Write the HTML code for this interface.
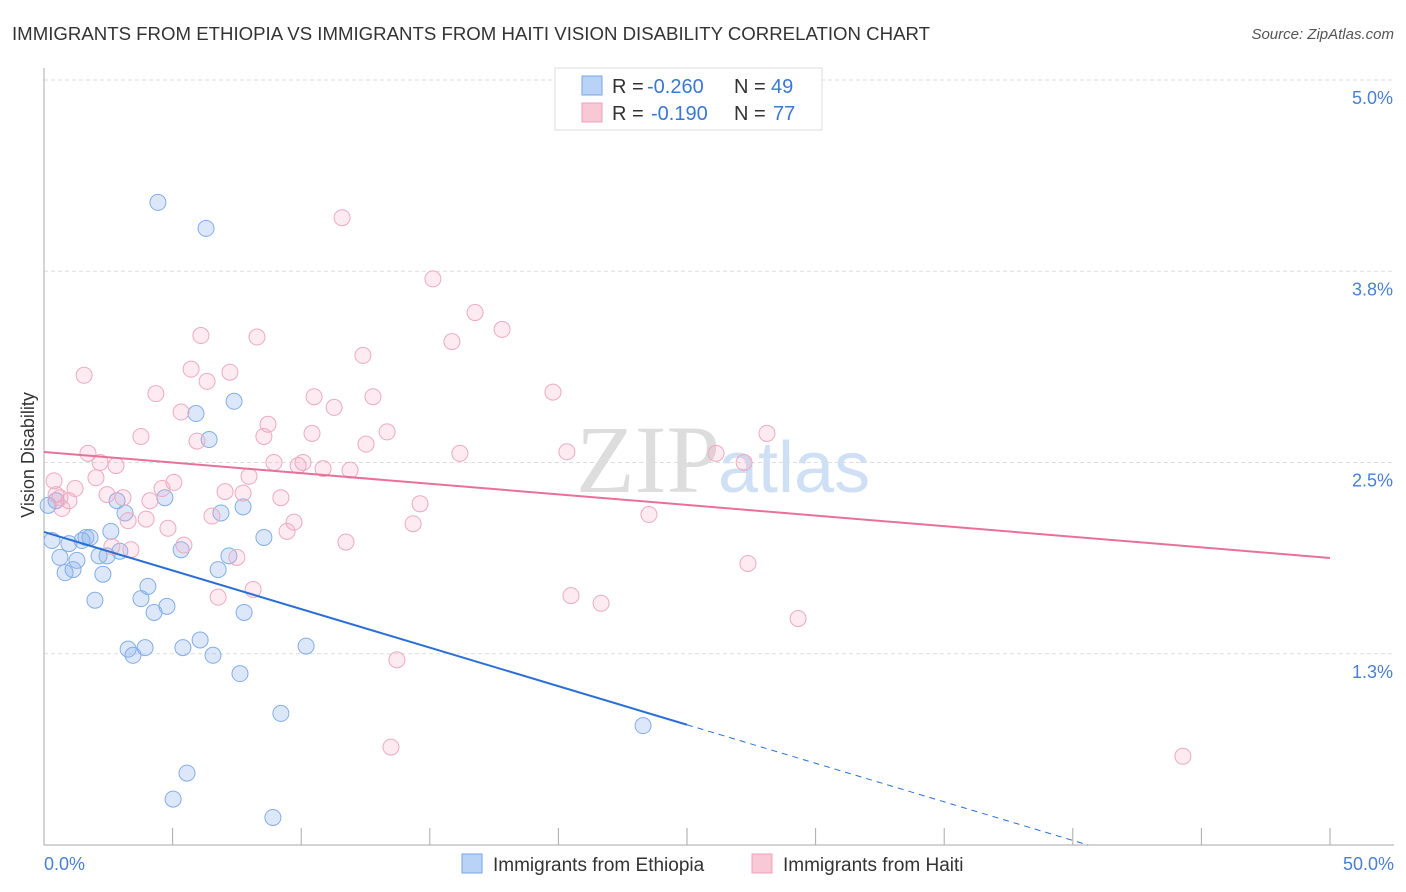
<!DOCTYPE html>
<html><head><meta charset="utf-8"><style>
body{margin:0;background:#fff;font-family:"Liberation Sans",sans-serif}
svg{display:block}
</style></head><body>
<svg width="1406" height="892" viewBox="0 0 1406 892">
<text x="12" y="40" font-size="18" fill="#333" textLength="918" lengthAdjust="spacingAndGlyphs">IMMIGRANTS FROM ETHIOPIA VS IMMIGRANTS FROM HAITI VISION DISABILITY CORRELATION CHART</text>
<text x="1394" y="39" font-size="15" fill="#555" font-style="italic" text-anchor="end">Source: ZipAtlas.com</text>
<g id="grid"></g>
<g id="axes"></g>
<text x="720" y="492" font-size="96" fill="#ddd" text-anchor="end" font-family="Liberation Serif">ZIP</text>
<text x="718" y="492" font-size="72" fill="#cfe0f5">atlas</text>
<g id="pts"></g>
<g id="lines"></g>
<text transform="translate(34,455) rotate(-90)" font-size="18" fill="#333" text-anchor="middle">Vision Disability</text>
<text x="44" y="870" font-size="18" fill="#4a7fd4">0.0%</text>
<text x="1394" y="870" font-size="18" fill="#4a7fd4" text-anchor="end">50.0%</text>
<g>
<rect x="555" y="68" width="267" height="62" fill="#fff" stroke="#ddd"/>
<rect x="582" y="76" width="20" height="19" fill="#b8d3f5" stroke="#7aa6e6"/>
<rect x="582" y="103" width="20" height="19" fill="#f9c8d6" stroke="#eea0b8"/>
<text x="612" y="93" font-size="20" fill="#333">R =</text>
<text x="647" y="93" font-size="20" fill="#3a78d4">-0.260</text>
<text x="734" y="93" font-size="20" fill="#333">N =</text>
<text x="771" y="93" font-size="20" fill="#3a78d4">49</text>
<text x="612" y="120" font-size="20" fill="#333">R =</text>
<text x="651" y="120" font-size="20" fill="#3a78d4">-0.190</text>
<text x="734" y="120" font-size="20" fill="#333">N =</text>
<text x="773" y="120" font-size="20" fill="#3a78d4">77</text>
</g>
<g>
<rect x="462" y="854" width="20" height="19" fill="#b8d3f5" stroke="#7aa6e6"/>
<text x="493" y="871" font-size="19" fill="#333">Immigrants from Ethiopia</text>
<rect x="752" y="854" width="20" height="19" fill="#f9c8d6" stroke="#eea0b8"/>
<text x="783" y="871" font-size="19" fill="#333">Immigrants from Haiti</text>
</g>
</svg>
<script>
const yTicks=[5.0,3.75,2.5,1.25];
const yTickLabels=["5.0%","3.8%","2.5%","1.3%"];
const xTicks=[0,5,10,15,20,25,30,35,40,45,50];
const ethX=[4.43,6.30,5.91,6.42,7.39,4.70,2.84,3.15,7.74,6.88,8.55,2.60,1.63,1.79,1.48,0.97,0.31,0.62,1.28,2.14,2.45,2.95,5.33,7.19,6.77,0.82,1.13,2.29,4.04,3.77,4.78,4.28,1.98,7.78,3.27,3.93,3.46,5.40,6.07,6.57,10.19,7.62,9.21,23.29,5.56,5.02,8.90,0.47,0.16];
const ethY=[4.20,4.03,2.82,2.65,2.90,2.27,2.25,2.17,2.21,2.17,2.01,2.05,2.01,2.01,1.99,1.97,1.99,1.88,1.86,1.89,1.89,1.92,1.93,1.89,1.80,1.78,1.80,1.77,1.69,1.61,1.56,1.52,1.60,1.52,1.28,1.29,1.24,1.29,1.34,1.24,1.30,1.12,0.86,0.78,0.47,0.30,0.18,2.25,2.22];
const haiX=[11.59,15.12,16.76,17.81,15.86,12.40,8.28,6.10,1.56,5.72,7.23,6.34,4.35,10.50,12.79,19.79,5.33,11.28,8.71,3.77,5.95,8.55,10.42,13.34,12.52,1.71,2.18,2.80,8.94,10.07,9.88,10.85,11.90,16.17,20.33,26.13,28.11,27.22,0.39,2.02,5.05,7.97,1.21,2.45,3.07,4.12,4.59,7.04,0.97,0.70,7.74,9.21,14.62,3.97,3.27,4.82,6.53,9.72,9.45,14.35,23.52,11.74,2.64,3.38,5.44,7.50,27.37,8.13,6.77,20.49,21.66,29.32,13.72,13.49,44.28,0.47,0.62];
const haiY=[4.10,3.70,3.48,3.37,3.29,3.20,3.32,3.33,3.07,3.11,3.09,3.03,2.95,2.93,2.93,2.96,2.83,2.86,2.75,2.67,2.64,2.67,2.69,2.70,2.62,2.56,2.50,2.48,2.50,2.50,2.48,2.46,2.45,2.56,2.57,2.56,2.69,2.50,2.38,2.40,2.37,2.41,2.33,2.29,2.27,2.25,2.33,2.31,2.25,2.20,2.30,2.27,2.23,2.13,2.12,2.07,2.15,2.11,2.05,2.10,2.16,1.98,1.95,1.93,1.96,1.88,1.84,1.67,1.62,1.63,1.58,1.48,1.21,0.64,0.58,2.29,2.27];
const ethTrend=[2.046,-0.0504];
const haiTrend=[2.569,-0.01386];
const NS="http://www.w3.org/2000/svg";
const X=v=>44+v*25.72, Y=v=>845-v*153;
function mk(t,a,p){const e=document.createElementNS(NS,t);for(const k in a)e.setAttribute(k,a[k]);p.appendChild(e);return e;}
const grid=document.getElementById('grid'),axes=document.getElementById('axes');
yTicks.forEach((t,i)=>{
 const l=mk('line',{x1:44,x2:1394,y1:Y(t),y2:Y(t),stroke:'#ddd','stroke-dasharray':'4 3'},grid);
 
 
 const tx=mk('text',{x:1393,y:Y(t)+24,'font-size':18,fill:'#4a7fd4','text-anchor':'end'},axes);
 tx.textContent=yTickLabels[i];
 
 
});
mk('line',{x1:44,x2:44,y1:68,y2:845,stroke:'#aaa'},axes);
mk('line',{x1:44,x2:1394,y1:845,y2:845,stroke:'#aaa'},axes);
xTicks.forEach(t=>{const l=mk('line',{x1:X(t),x2:X(t),y1:828,y2:845,stroke:'#aaa'},axes);
 
 });
const pts=document.getElementById('pts');
ethX.forEach((x,i)=>{const c=mk('circle',{cx:X(x),cy:Y(ethY[i]),r:8,fill:'rgba(140,180,240,0.3)',stroke:'#84ade8','stroke-width':1},pts);
 
 });
haiX.forEach((x,i)=>{const c=mk('circle',{cx:X(x),cy:Y(haiY[i]),r:8,fill:'rgba(245,165,190,0.22)',stroke:'#eeaac0','stroke-width':1},pts);
 
 });
const lines=document.getElementById('lines');
const f=(tr,x)=>tr[0]+tr[1]*x;
let l1=mk('line',{x1:X(0),y1:Y(f(haiTrend,0)),x2:X(50),y2:Y(f(haiTrend,50)),stroke:'#e8709a','stroke-width':2},lines);


let l2=mk('line',{x1:X(0),y1:Y(f(ethTrend,0)),x2:X(25),y2:Y(f(ethTrend,25)),stroke:'#2b6fd6','stroke-width':2},lines);


const xe=-ethTrend[0]/ethTrend[1];
let l3=mk('line',{x1:X(25),y1:Y(f(ethTrend,25)),x2:X(xe),y2:Y(0),stroke:'#2b6fd6','stroke-width':1,'stroke-dasharray':'6 5'},lines);


</script>
</body></html>
